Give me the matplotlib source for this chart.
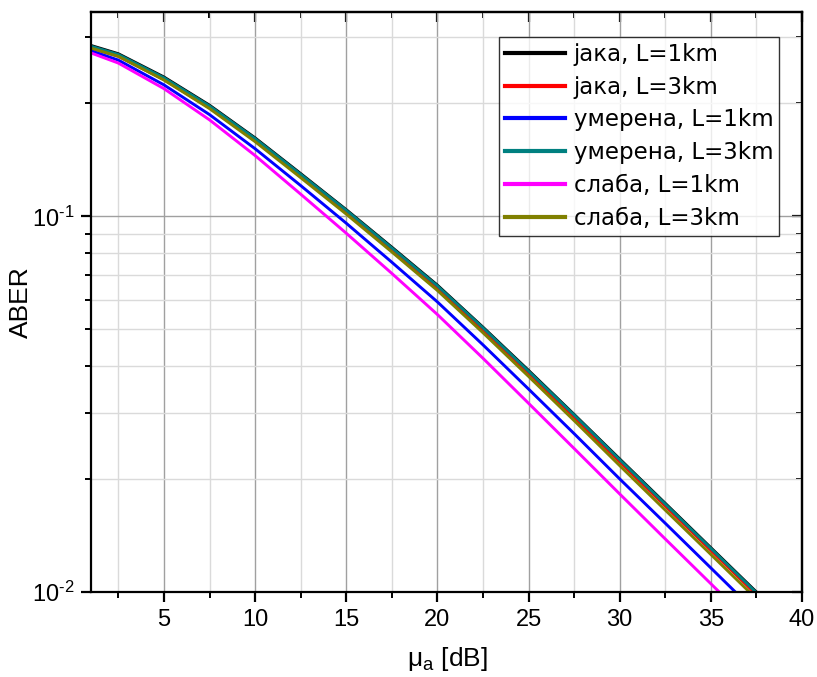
import matplotlib
matplotlib.use("Agg")
import matplotlib.pyplot as plt
from matplotlib.ticker import FixedLocator, NullFormatter, LogLocator, FuncFormatter
import math

plt.rcParams['font.family'] = ['Liberation Sans', 'DejaVu Sans']
plt.rcParams['mathtext.fontset'] = 'custom'
plt.rcParams['mathtext.rm'] = 'Liberation Sans'
plt.rcParams['mathtext.it'] = 'Liberation Sans'
plt.rcParams['mathtext.default'] = 'regular'
plt.rcParams['axes.unicode_minus'] = False

# ---- data ----
mu_a = [1, 2.5, 5, 7.5, 10, 12.5, 15, 17.5, 20, 22.5, 25, 27.5, 30, 32.5, 35, 37.5, 40]

jaka_1km = [0.2851, 0.2710, 0.2350, 0.1977, 0.1618, 0.1300, 0.1042, 0.0828, 0.0656,
            0.0507, 0.0389, 0.0297, 0.0226, 0.01722, 0.01312, 0.01000, 0.00764]
jaka_3km = [0.2805, 0.2667, 0.2312, 0.1945, 0.1592, 0.1279, 0.1026, 0.0815, 0.0646,
            0.0499, 0.0383, 0.0292, 0.0222, 0.01694, 0.01291, 0.00984, 0.00752]
umerena_1km = [0.2761, 0.2606, 0.2239, 0.1866, 0.1514, 0.1208, 0.0959, 0.0755, 0.0592,
               0.0455, 0.0347, 0.0264, 0.0200, 0.01524, 0.01159, 0.00881, 0.00673]
umerena_3km = [0.2838, 0.2698, 0.2339, 0.1968, 0.1611, 0.1294, 0.1038, 0.0824, 0.0653,
               0.0505, 0.0387, 0.0296, 0.0225, 0.01714, 0.01306, 0.00995, 0.00760]
slaba_1km = [0.2723, 0.2559, 0.2188, 0.1807, 0.1452, 0.1146, 0.0902, 0.0705, 0.0548,
             0.0419, 0.0318, 0.0241, 0.01824, 0.01384, 0.01052, 0.00800, 0.00610]
slaba_3km = [0.2805, 0.2667, 0.2307, 0.1936, 0.1581, 0.1268, 0.1014, 0.0804, 0.0635,
             0.0490, 0.0375, 0.0286, 0.0217, 0.01652, 0.01259, 0.00959, 0.00733]

labels = ['јака, L=1km', 'јака, L=3km', 'умерена, L=1km', 'умерена, L=3km',
          'слаба, L=1km', 'слаба, L=3km']
series = [jaka_1km, jaka_3km, umerena_1km, umerena_3km, slaba_1km, slaba_3km]
colors = ['#000000', '#ff0000', '#0000ff', '#008080', '#ff00ff', '#808000']

x_major = [5, 10, 15, 20, 25, 30, 35, 40]
x_minor = [2.5, 7.5, 12.5, 17.5, 22.5, 27.5, 32.5, 37.5]

fig = plt.figure(figsize=(8.17, 6.77), dpi=100)
ax = fig.add_axes([91/817, 1-592/677, (802-91)/817, (592-12)/677])

for y, c, lab in zip(series, colors, labels):
    ax.plot(mu_a, y, color=c, lw=2.1, label=lab, solid_joinstyle='round')

ax.set_yscale('log')
ax.set_xlim(1, 40)
ax.set_ylim(0.01, 0.35)

def logfmt(v, pos):
    e = int(round(math.log10(v)))
    s = str(e).replace('-', '\u2010')
    return '10$^{' + s + '}$'

ax.xaxis.set_major_locator(FixedLocator(x_major))
ax.xaxis.set_minor_locator(FixedLocator(x_minor))
ax.yaxis.set_major_locator(LogLocator(base=10, numticks=10))
ax.yaxis.set_major_formatter(FuncFormatter(logfmt))
ax.yaxis.set_minor_locator(LogLocator(base=10, subs=[2, 3, 4, 5, 6, 7, 8, 9], numticks=20))
ax.yaxis.set_minor_formatter(NullFormatter())

ax.grid(which='major', color='#a0a0a0', lw=1.0)
ax.grid(which='minor', color='#dadada', lw=1.0)
ax.set_axisbelow(True)

for s in ax.spines.values():
    s.set_linewidth(1.6)
    s.set_color('black')

ax.tick_params(axis='both', which='major', direction='out', length=7, width=1.6,
               labelsize=17, pad=5, color='black')
ax.tick_params(axis='both', which='minor', direction='out', length=4, width=1.4, color='black')

# mirrored inward ticks on top and right
axt = ax.secondary_xaxis('top')
axt.xaxis.set_major_locator(FixedLocator(x_major))
axt.xaxis.set_minor_locator(FixedLocator(x_minor))
axt.tick_params(which='major', direction='in', length=7, width=1.6, labeltop=False)
axt.tick_params(which='minor', direction='in', length=4, width=1.4)
axt.spines['top'].set_linewidth(1.6)

axr = ax.secondary_yaxis('right')
axr.set_yscale('log')
axr.yaxis.set_major_locator(LogLocator(base=10, numticks=10))
axr.yaxis.set_minor_locator(LogLocator(base=10, subs=[2, 3, 4, 5, 6, 7, 8, 9], numticks=20))
axr.yaxis.set_minor_formatter(NullFormatter())
axr.tick_params(which='major', direction='in', length=7, width=1.6, labelright=False)
axr.tick_params(which='minor', direction='in', length=4, width=1.4)
axr.spines['right'].set_linewidth(1.6)

ax.set_xlabel('μ$_a$ [dB]', fontsize=19)
ax.set_ylabel('ABER', fontsize=19)
ax.xaxis.set_label_coords((447-91)/711, (592-645)/580)
ax.yaxis.set_label_coords((33-91)/711, (592-302)/580)

leg = ax.legend(loc='upper right', bbox_to_anchor=(779/817, 1-37/677),
                bbox_transform=fig.transFigure, borderaxespad=0,
                prop={'family': 'DejaVu Sans', 'size': 16.5},
                frameon=True, fancybox=False, shadow=False,
                handlelength=2.65, handletextpad=0.35, labelspacing=0.43,
                borderpad=0.25)
leg.get_frame().set_edgecolor('black')
leg.get_frame().set_linewidth(1.0)
for h in leg.get_lines():
    h.set_linewidth(3.0)

fig.savefig('out.png', dpi=100)
